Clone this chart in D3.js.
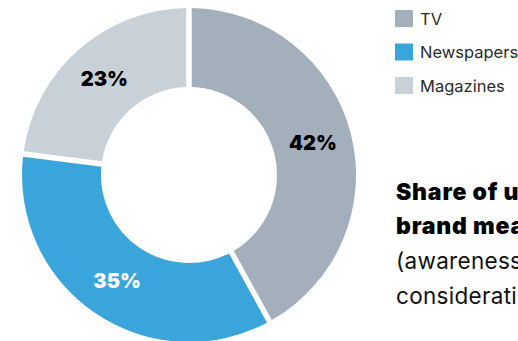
<!DOCTYPE html>
<html>
<head>
<meta charset="utf-8">
<script src="https://cdn.jsdelivr.net/npm/d3@7"></script>
<style>
  html, body { margin: 0; padding: 0; background: #fff; overflow: hidden; }
  svg { display: block; }
</style>
</head>
<body>
<svg id="chart" width="518" height="341"></svg>
<script>
// Media channels and their share (%)
const categories = ["TV", "Newspapers", "Magazines"];
const shares = [42, 35, 23];
const sliceColors = ["#a3afba", "#3aa5da", "#c9d1d8"];
const labelColors = ["#000000", "#ffffff", "#000000"];
const titleBold = ["Share of uplift in", "brand measures"];
const titleRegular = ["(awareness and", "consideration)"];

const svg = d3.select("#chart");
const width = 518, height = 341;
svg.append("rect").attr("width", width).attr("height", height).attr("fill", "#fff");

const cx = 189, cy = 175, outerR = 167, innerR = 88;

const pie = d3.pie().sort(null).value(d => d);
const arcs = pie(shares);

const arc = d3.arc()
  .innerRadius(innerR)
  .outerRadius(outerR)
  .padAngle(5.5 / Math.sqrt(innerR * innerR + outerR * outerR));

const g = svg.append("g").attr("transform", `translate(${cx},${cy})`);

g.selectAll("path.slice")
  .data(arcs)
  .join("path")
  .attr("class", "slice")
  .attr("d", arc)
  .attr("fill", (d, i) => sliceColors[i]);

// percentage labels in the middle of each ring segment
const labelArc = d3.arc().innerRadius(128).outerRadius(128);
g.selectAll("text.pct")
  .data(arcs)
  .join("text")
  .attr("class", "pct")
  .attr("transform", d => `translate(${labelArc.centroid(d)})`)
  .attr("text-anchor", "middle")
  .attr("dy", "0.36em")
  .attr("font-family", "Inter, 'Liberation Sans', sans-serif")
  .attr("font-weight", 900)
  .attr("font-size", 20)
  .attr("fill", (d, i) => labelColors[i])
  .text(d => `${d.data}%`);

// legend
const legend = svg.append("g").attr("transform", "translate(395,10)");
const rows = legend.selectAll("g.row")
  .data(categories)
  .join("g")
  .attr("class", "row")
  .attr("transform", (d, i) => `translate(0,${i * 33.5})`);
rows.append("rect")
  .attr("width", 18).attr("height", 17)
  .attr("fill", (d, i) => sliceColors[i]);
rows.append("text")
  .attr("x", 25).attr("y", 14.5)
  .attr("font-family", "Inter, 'Liberation Sans', sans-serif")
  .attr("font-size", 16.5)
  .attr("fill", "#2b2b2b")
  .text(d => d);

// side title, running past the right edge of the panel
const title = svg.append("g").attr("transform", "translate(396,0)");
title.selectAll("text.tb")
  .data(titleBold)
  .join("text")
  .attr("class", "tb")
  .attr("y", (d, i) => 200 + i * 34)
  .attr("font-family", "Inter, 'Liberation Sans', sans-serif")
  .attr("font-weight", 900)
  .attr("font-size", 23)
  .attr("letter-spacing", 0.8)
  .attr("fill", "#000")
  .text(d => d);
title.selectAll("text.tr")
  .data(titleRegular)
  .join("text")
  .attr("class", "tr")
  .attr("y", (d, i) => 268.5 + i * 35)
  .attr("font-family", "Inter, 'Liberation Sans', sans-serif")
  .attr("font-size", 22.5)
  .attr("letter-spacing", 0.3)
  .attr("fill", "#111")
  .text(d => d);
</script>
</body>
</html>
